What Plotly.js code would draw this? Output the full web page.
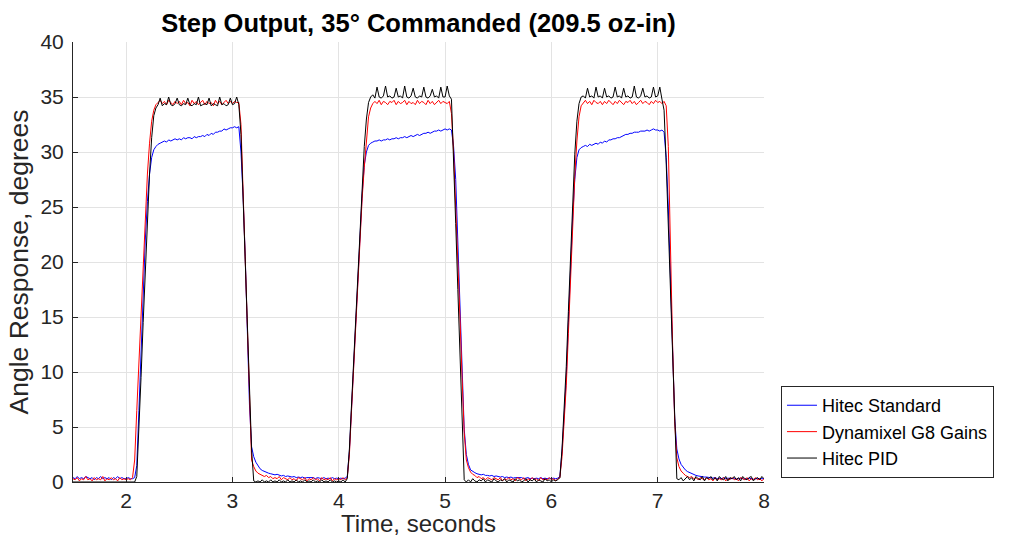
<!DOCTYPE html>
<html>
<head>
<meta charset="utf-8">
<script src="https://cdn.plot.ly/plotly-3.0.1.min.js"></script>
<style>html,body{margin:0;padding:0;background:#fff;}#chart{width:1021px;height:537px;}</style>
</head>
<body>
<div id="chart"></div>
<script>
// Samples every 0.02 s starting at 1.50 s (x0 / dx of each trace)
const startTime = 1.5;
const sampleStep = 0.02;
const seriesNames = ["Hitec Standard", "Dynamixel G8 Gains", "Hitec PID"];
const xTicks = [2, 3, 4, 5, 6, 7, 8];
const yTicks = [0, 5, 10, 15, 20, 25, 30, 35, 40];

const hitecStandard = [
  0.4,0.3,0.5,0.3,0.4,0.3,0.5,0.4,0.3,0.4,0.2,0.4,0.3,0.5,0.3,0.4,0.3,0.4,0.2,0.4,0.3,0.5,0.3,0.4,0.3,
  0.3,0.4,0.3,0.3,0.4,1.5,6.5,12,17.5,22,25.5,28,29.5,30.2,30.5,30.7,30.8,30.9,31.0,30.9,31.1,31.0,31.1,31.2,31.1,
  31.2,31.1,31.3,31.2,31.3,31.3,31.2,31.4,31.3,31.4,31.4,31.5,31.4,31.6,31.5,31.7,31.6,31.8,31.8,31.9,31.9,32.1,32.0,32.1,32.2,
  32.2,32.3,32.2,32.3,30.0,26.0,20.5,13.5,7.0,3.2,2.3,1.8,1.5,1.2,1.05,0.95,0.9,0.8,0.75,0.7,0.65,0.7,0.6,0.55,0.6,
  0.5,0.55,0.5,0.45,0.5,0.4,0.45,0.4,0.45,0.35,0.4,0.4,0.35,0.4,0.3,0.4,0.35,0.3,0.4,0.3,0.35,0.3,0.4,0.3,0.35,
  0.3,0.35,0.3,0.35,0.5,2.8,6.8,10.8,15,19,22.8,26.2,28.8,30.0,30.6,30.8,30.9,31.0,31.0,31.1,31.0,31.1,31.1,31.2,31.1,
  31.2,31.2,31.3,31.2,31.3,31.3,31.4,31.3,31.4,31.5,31.4,31.5,31.6,31.5,31.6,31.7,31.7,31.8,31.7,31.8,31.9,31.9,32.0,31.9,32.0,
  32.1,32.0,32.1,32.0,30.5,27.5,22,16,10,4.8,2.5,1.6,1.1,0.95,0.85,0.75,0.7,0.65,0.7,0.6,0.6,0.55,0.6,0.5,0.55,
  0.5,0.45,0.5,0.4,0.45,0.4,0.45,0.35,0.4,0.4,0.35,0.4,0.3,0.35,0.4,0.3,0.35,0.3,0.35,0.3,0.4,0.3,0.35,0.3,0.35,
  0.3,0.35,0.3,0.35,0.5,2.8,6.0,9.5,14.5,19.5,24,27.5,29.5,30.2,30.4,30.5,30.6,30.5,30.7,30.6,30.7,30.8,30.7,30.9,30.8,
  31.0,30.9,31.1,31.1,31.2,31.2,31.3,31.3,31.4,31.5,31.6,31.6,31.7,31.7,31.8,31.8,31.8,31.9,31.9,31.9,32.0,31.9,32.0,32.1,32.0,
  32.0,31.9,32.0,31.8,29.5,25,18.5,11.5,5.8,3.0,2.1,1.6,1.3,1.1,0.95,0.85,0.75,0.7,0.6,0.55,0.5,0.5,0.45,0.45,0.4,
  0.4,0.35,0.4,0.3,0.35,0.3,0.4,0.3,0.35,0.3,0.3,0.35,0.25,0.3,0.35,0.3,0.25,0.3,0.35,0.3,0.25,0.3,0.3,0.25,0.3,0.3
];

const dynamixelG8 = [
  0.3,0.2,0.4,0.1,0.3,0.2,0.5,0.2,0.3,0.1,0.4,0.2,0.3,0.2,0.5,0.1,0.3,0.2,0.4,0.2,0.3,0.1,0.4,0.2,0.3,
  0.2,0.3,0.2,0.4,2.0,6.5,11,15.3,19.8,24.3,28,30.8,32.8,33.8,34.3,34.5,34.7,34.4,34.6,34.3,34.7,34.5,34.3,34.6,34.4,
  34.6,34.3,34.7,34.4,34.5,34.2,34.7,34.4,34.6,34.3,34.5,34.7,34.3,34.6,34.4,34.5,34.2,34.7,34.4,34.6,34.3,34.5,34.7,34.4,34.6,
  34.4,34.6,34.5,34.5,32.5,26.5,20.2,12.8,6.5,2.0,1.4,1.0,0.8,0.7,0.6,0.5,0.6,0.4,0.5,0.3,0.4,0.3,0.5,0.2,0.4,
  0.3,0.2,0.4,0.2,0.3,0.1,0.4,0.3,0.2,0.4,0.1,0.3,0.2,0.4,0.2,0.3,0.1,0.4,0.2,0.3,0.2,0.4,0.1,0.3,0.2,
  0.3,0.2,0.4,0.2,0.4,2.5,6.5,10.5,14.5,18.5,22.3,25.8,28.6,31.2,33.2,34.0,34.4,34.6,34.4,34.7,34.3,34.6,34.5,34.3,34.6,
  34.5,34.7,34.3,34.6,34.4,34.5,34.7,34.3,34.6,34.4,34.5,34.3,34.7,34.4,34.6,34.5,34.3,34.7,34.4,34.6,34.3,34.5,34.7,34.4,34.6,
  34.5,34.4,34.6,33.5,30,25.5,20.5,15,9.5,4.5,2.0,1.3,0.9,0.7,0.6,0.4,0.5,0.3,0.4,0.2,0.4,0.3,0.2,0.4,0.3,
  0.2,0.4,0.1,0.3,0.2,0.4,0.2,0.3,0.1,0.4,0.3,0.2,0.4,0.1,0.3,0.2,0.4,0.2,0.3,0.1,0.4,0.2,0.3,0.2,0.4,
  0.2,0.3,0.1,0.3,0.4,2.3,5.2,8.8,13.5,18.5,23.5,27.8,31,33.2,34.2,34.5,34.7,34.4,34.6,34.3,34.7,34.5,34.4,34.6,34.3,
  34.6,34.4,34.7,34.5,34.3,34.6,34.4,34.7,34.5,34.3,34.6,34.5,34.7,34.4,34.6,34.3,34.5,34.7,34.4,34.6,34.5,34.3,34.6,34.4,34.7,
  34.5,34.6,34.4,34.6,34.2,30.5,21,12.5,5.5,2.2,1.4,1.0,0.8,0.6,0.5,0.4,0.5,0.3,0.4,0.2,0.4,0.3,0.2,0.4,0.2,
  0.3,0.1,0.4,0.2,0.3,0.2,0.4,0.1,0.3,0.2,0.4,0.2,0.3,0.1,0.4,0.3,0.2,0.4,0.1,0.3,0.2,0.4,0.2,0.3,0.1,0.3
];

const hitecPID = [
  0,0,0,0,0,0,0,0,0,0,0,0,0,0,0,0,0,0,0,0,0,0,0,0,0,
  0,0,0,0,0,0.5,4.5,9.5,14.5,19,24,28,31.3,33.3,34.0,34.3,34.9,34.2,34.4,34.3,35.0,34.3,34.2,34.4,34.9,
  34.3,34.2,34.4,34.3,34.9,34.3,34.2,34.4,34.3,35.0,34.2,34.3,34.4,34.3,34.9,34.2,34.4,34.3,34.2,35.0,34.3,34.4,34.2,34.3,34.9,
  34.3,34.4,35.0,34.3,31.6,25.8,20,14.3,8.6,2.9,0.1,0,0.1,0,0.2,0,0.1,0,0.2,0,0.1,0,0.2,0,0.1,
  0,0.2,0,0.1,0,0.2,0,0.1,0,0.2,0,0.1,0,0.2,0,0.1,0,0.2,0,0.1,0,0.2,0,0.1,0,
  0.1,0,0.2,0,0.3,3,7,11,15.3,19.5,23.5,27.3,30.5,33,34.5,35.0,35.2,34.9,35.9,35.0,34.9,35.1,36.0,35.0,35.1,
  34.9,35.0,35.8,35.0,35.1,34.9,36.0,35.0,34.9,35.1,35.8,35.0,34.9,35.1,35.0,35.9,35.0,34.9,35.1,35.7,35.0,35.1,34.9,35.9,35.0,
  35.0,36.0,35.1,34.8,29.8,23.5,17.5,11.3,5,0.2,0,0.2,0,0.3,0.1,0,0.2,0.1,0.3,0,0.2,0.1,0,0.3,0.1,
  0,0.2,0.1,0.3,0,0.2,0.1,0,0.3,0.1,0.2,0,0.1,0.3,0,0.2,0.1,0.3,0,0.2,0.1,0,0.3,0.1,0.2,
  0,0.2,0.1,0.2,0.4,3.0,6.5,10.5,15.5,20.5,25.5,29.8,32.8,34.4,35.0,35.1,34.9,35.8,35.0,35.1,34.9,35.9,35.0,35.1,34.9,
  35.8,35.0,35.1,34.9,35.0,35.9,35.0,35.1,34.9,35.8,35.0,35.1,34.9,35.0,36.0,35.0,34.9,35.1,35.8,35.0,35.1,34.9,35.0,35.9,35.0,
  35.1,35.9,34.8,33.8,29,23.2,17.5,11.5,5.7,0.3,0.2,0.4,0.1,0.3,0.5,0.2,0.4,0.1,0.5,0.3,0.2,0.5,0.1,0.4,0.3,
  0.5,0.2,0.4,0.1,0.5,0.3,0.2,0.5,0.1,0.4,0.3,0.5,0.2,0.4,0.1,0.5,0.3,0.2,0.4,0.5,0.1,0.3,0.4,0.2,0.5,0.3
];

const seriesValues = [hitecStandard, dynamixelG8, hitecPID];
const seriesColors = ["#0000ff", "#ff0000", "#000000"];

const FONT = '"Liberation Sans", Arial, Helvetica, sans-serif';
const traces = seriesValues.map((vals, k) => ({
  type: "scatter",
  mode: "lines",
  name: seriesNames[k],
  x0: startTime,
  dx: sampleStep,
  y: vals,
  line: {color: seriesColors[k], width: 1},
  hoverinfo: "skip"
}));

const axisCommon = {
  showgrid: true,
  gridcolor: "#e3e3e3",
  gridwidth: 1,
  zeroline: false,
  showline: true,
  linecolor: "#262626",
  linewidth: 1,
  ticks: "inside",
  ticklen: 5,
  tickcolor: "#262626",
  tickfont: {family: FONT, size: 21, color: "#262626"},
  mirror: false
};

const layout = {
  width: 1021,
  height: 537,
  paper_bgcolor: "#ffffff",
  plot_bgcolor: "#ffffff",
  margin: {l: 73, r: 257, t: 42, b: 55, pad: 0},
  title: {
    text: "<b>Step Output, 35° Commanded (209.5 oz-in)</b>",
    font: {family: FONT, size: 25.5, color: "#000000"},
    x: 0.5, xref: "paper", xanchor: "center",
    y: 1 - 23/537, yref: "container", yanchor: "middle"
  },
  xaxis: Object.assign({}, axisCommon, {
    range: [1.5, 8],
    tickvals: xTicks,
    ticktext: xTicks.map(String),
    title: {text: "Time, seconds", font: {family: FONT, size: 24, color: "#262626"}, standoff: 7}
  }),
  yaxis: Object.assign({}, axisCommon, {
    range: [0, 40],
    tickvals: yTicks,
    ticktext: yTicks.map(String),
    ticklabelstandoff: 4,
    title: {text: "Angle Response, degrees", font: {family: FONT, size: 26.5, color: "#262626"}, standoff: 4}
  }),
  showlegend: true,
  legend: {
    x: 1.0246, y: 0.009, xanchor: "left", yanchor: "bottom",
    xref: "paper", yref: "paper",
    bgcolor: "#ffffff",
    bordercolor: "#262626",
    borderwidth: 1,
    font: {family: FONT, size: 18, color: "#000000"},
    itemwidth: 30,
    tracegroupgap: 0
  }
};

Plotly.newPlot("chart", traces, layout, {displayModeBar: false, staticPlot: true});
</script>
</body>
</html>
